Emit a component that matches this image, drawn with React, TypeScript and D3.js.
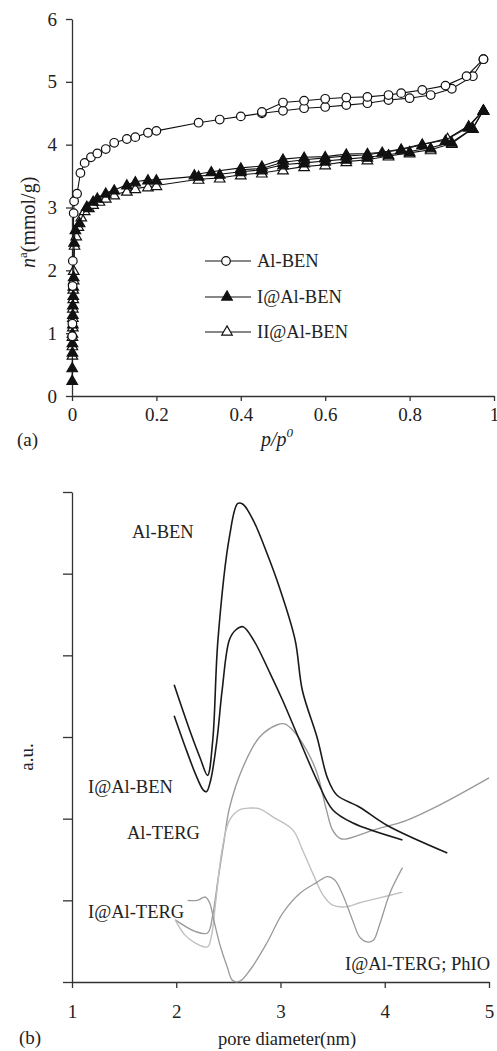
import * as d3 from "d3";
import { useEffect, useRef } from "react";

// (a) isotherms: [p/p0, n (mmol/g)]
const alBenAds = [
  [0.0005, 0.95], [0.001, 1.15], [0.0015, 1.75], [0.002, 2.15], [0.004, 2.91], [0.005, 3.1],
  [0.012, 3.22], [0.02, 3.55], [0.03, 3.71], [0.045, 3.8], [0.06, 3.86], [0.08, 3.93],
  [0.1, 4.03], [0.13, 4.09], [0.15, 4.12], [0.18, 4.19], [0.2, 4.22], [0.3, 4.35],
  [0.35, 4.4], [0.4, 4.45], [0.45, 4.5], [0.5, 4.54], [0.55, 4.58], [0.6, 4.6],
  [0.65, 4.63], [0.7, 4.66], [0.75, 4.71], [0.8, 4.74], [0.85, 4.79], [0.9, 4.89],
  [0.95, 5.09], [0.975, 5.36]
];
const alBenDes = [
  [0.975, 5.36], [0.935, 5.09], [0.885, 4.94], [0.83, 4.87], [0.78, 4.82], [0.75, 4.79],
  [0.7, 4.76], [0.65, 4.75], [0.6, 4.73], [0.55, 4.7], [0.5, 4.67], [0.45, 4.52]
];
const iAlBenAds = [
  [0.0005, 0.25], [0.0005, 0.45], [0.001, 0.7], [0.001, 0.85], [0.001, 1.0], [0.002, 1.15],
  [0.002, 1.3], [0.002, 1.45], [0.003, 1.6], [0.003, 1.75], [0.004, 1.9], [0.005, 2.45],
  [0.008, 2.65], [0.018, 2.76], [0.035, 3.02], [0.05, 3.1], [0.06, 3.15], [0.08, 3.23],
  [0.1, 3.28], [0.13, 3.36], [0.15, 3.41], [0.18, 3.44], [0.2, 3.44], [0.3, 3.5],
  [0.35, 3.53], [0.4, 3.57], [0.45, 3.6], [0.5, 3.68], [0.55, 3.71], [0.6, 3.74],
  [0.65, 3.77], [0.7, 3.8], [0.75, 3.84], [0.8, 3.89], [0.85, 3.95], [0.9, 4.04],
  [0.95, 4.26], [0.975, 4.55]
];
const iAlBenDes = [
  [0.975, 4.55], [0.94, 4.28], [0.885, 4.07], [0.83, 4.01], [0.78, 3.93], [0.735, 3.88],
  [0.7, 3.86], [0.65, 3.85], [0.6, 3.81], [0.55, 3.8], [0.5, 3.77], [0.45, 3.66],
  [0.4, 3.63], [0.33, 3.57], [0.29, 3.52]
];
const iiAlBenAds = [
  [0.001, 0.65], [0.001, 0.8], [0.001, 0.95], [0.002, 1.1], [0.002, 1.25], [0.002, 1.4],
  [0.003, 1.55], [0.003, 1.7], [0.004, 1.85], [0.004, 2.0], [0.006, 2.4], [0.01, 2.55],
  [0.015, 2.7], [0.022, 2.85], [0.03, 2.95], [0.04, 3.0], [0.05, 3.05], [0.065, 3.1],
  [0.08, 3.15], [0.1, 3.2], [0.13, 3.26], [0.15, 3.3], [0.18, 3.33], [0.2, 3.35],
  [0.3, 3.45], [0.35, 3.47], [0.4, 3.52], [0.45, 3.55], [0.5, 3.6], [0.55, 3.65],
  [0.6, 3.68], [0.65, 3.73], [0.7, 3.76], [0.75, 3.82], [0.8, 3.87], [0.85, 3.92],
  [0.9, 4.02], [0.95, 4.26], [0.975, 4.55]
];
const iiAlBenDes = [
  [0.975, 4.55], [0.94, 4.3], [0.89, 4.1], [0.83, 4.0], [0.78, 3.92], [0.7, 3.84],
  [0.65, 3.82], [0.6, 3.79], [0.55, 3.76], [0.5, 3.72], [0.45, 3.62], [0.4, 3.6]
];
const isoTicksX = [0, 0.2, 0.4, 0.6, 0.8, 1];
const isoTicksY = [0, 1, 2, 3, 4, 5, 6];

// (b) pore size distributions: [pore diameter (nm), a.u.]
const psdAlBen = [
  [1.98, 3.64], [2.13, 3.08], [2.23, 2.74], [2.3, 2.53], [2.35, 2.96], [2.4, 4.19],
  [2.51, 5.45], [2.59, 5.86], [2.64, 5.85], [2.74, 5.65], [2.87, 5.25], [2.99, 4.83],
  [3.14, 4.19], [3.21, 3.57], [3.35, 3.0], [3.45, 2.5], [3.54, 2.29], [3.76, 2.14],
  [4.02, 1.92], [4.6, 1.58]
];
const psdIAlBen = [
  [1.98, 3.26], [2.08, 2.9], [2.19, 2.53], [2.26, 2.35], [2.29, 2.33], [2.33, 2.47],
  [2.39, 2.96], [2.44, 3.57], [2.51, 4.19], [2.57, 4.31], [2.64, 4.35], [2.74, 4.19],
  [2.9, 3.78], [3.02, 3.45], [3.17, 3.0], [3.35, 2.47], [3.5, 2.11], [3.69, 1.95],
  [4.17, 1.74]
];
const psdAlTerg = [
  [1.99, 0.76], [2.18, 0.62], [2.3, 0.6], [2.35, 0.82], [2.4, 1.25], [2.46, 1.74],
  [2.51, 2.13], [2.64, 2.63], [2.8, 3.0], [2.97, 3.15], [3.04, 3.16], [3.12, 3.08],
  [3.25, 2.84], [3.35, 2.56], [3.44, 2.11], [3.5, 1.86], [3.57, 1.76], [3.62, 1.75],
  [3.89, 1.86], [4.21, 1.98], [4.53, 2.17], [5.0, 2.5]
];
const psdIAlTerg = [
  [1.99, 0.76], [2.08, 0.58], [2.18, 0.48], [2.3, 0.43], [2.34, 0.58], [2.38, 1.0],
  [2.44, 1.62], [2.51, 1.98], [2.61, 2.11], [2.71, 2.13], [2.8, 2.12], [2.93, 2.02],
  [3.12, 1.86], [3.21, 1.62], [3.31, 1.33], [3.41, 1.06], [3.5, 0.94], [3.62, 0.92],
  [3.76, 0.97], [3.95, 1.03], [4.17, 1.1]
];
const psdIAlTergPhio = [
  [2.11, 1.0], [2.2, 1.0], [2.28, 1.04], [2.32, 0.97], [2.36, 0.76], [2.42, 0.45],
  [2.49, 0.18], [2.54, 0.02], [2.61, 0.01], [2.71, 0.15], [2.87, 0.48], [3.02, 0.84],
  [3.19, 1.09], [3.35, 1.22], [3.45, 1.29], [3.52, 1.25], [3.6, 1.06], [3.69, 0.76],
  [3.76, 0.55], [3.83, 0.49], [3.89, 0.51], [3.95, 0.7], [4.05, 1.09], [4.17, 1.4]
];
const psdTicksX = [1, 2, 3, 4, 5];
const psdTicksY = [0, 1, 2, 3, 4, 5, 6];

const width = 497;
const height = 1051;
const font = "'Liberation Serif', 'Times New Roman', serif";

const isoX = d3.scaleLinear().domain([0, 1]).range([72, 494]);
const isoY = d3.scaleLinear().domain([0, 6]).range([396, 19]);
const psdX = d3.scaleLinear().domain([1, 5]).range([72, 489]);
const psdY = d3.scaleLinear().domain([0, 6]).range([982, 492]);

const App = () => {
  const ref = useRef(null);

  useEffect(() => {
    const svg = d3.select(ref.current);
    svg.selectAll("*").remove();

    const styleAxis = (g, size) => {
      g.select(".domain").attr("stroke", "#333").attr("stroke-width", 1.3);
      g.selectAll(".tick line").attr("stroke", "#333").attr("stroke-width", 1.3);
      g.selectAll("text").style("font-family", font).style("font-size", `${size}px`).attr("fill", "#222");
    };

    // ---- panel (a) ----
    svg.append("g")
      .attr("transform", "translate(0,396)")
      .call(d3.axisBottom(isoX).tickValues(isoTicksX).tickFormat(d3.format("")).tickSize(5).tickPadding(7).tickSizeOuter(0))
      .call(g => styleAxis(g, 19));
    svg.append("g")
      .attr("transform", "translate(72,0)")
      .call(d3.axisLeft(isoY).tickValues(isoTicksY).tickFormat(d3.format("d")).tickSize(6).tickPadding(9).tickSizeOuter(0))
      .call(g => styleAxis(g, 19));

    const isoLine = d3.line().x(d => isoX(d[0])).y(d => isoY(d[1]));
    const tri = d3.symbol(d3.symbolTriangle, 48);

    const drawSeries = (pts, kind) => {
      svg.append("path")
        .attr("d", isoLine(pts))
        .attr("fill", "none")
        .attr("stroke", "#111")
        .attr("stroke-width", 1.1);
      pts.forEach(d => {
        if (kind === "circle") {
          svg.append("circle")
            .attr("cx", isoX(d[0])).attr("cy", isoY(d[1])).attr("r", 4.3)
            .attr("fill", "#fff").attr("stroke", "#111").attr("stroke-width", 1.2);
        } else {
          svg.append("path")
            .attr("d", tri())
            .attr("transform", `translate(${isoX(d[0])},${isoY(d[1]) + 1})`)
            .attr("fill", kind === "filled" ? "#111" : "#fff")
            .attr("stroke", "#111").attr("stroke-width", 1.2);
        }
      });
    };

    drawSeries(iiAlBenAds, "open");
    drawSeries(iiAlBenDes, "open");
    drawSeries(iAlBenAds, "filled");
    drawSeries(iAlBenDes, "filled");
    drawSeries(alBenAds, "circle");
    drawSeries(alBenDes, "circle");

    // legend
    const legend = [
      { label: "Al-BEN", kind: "circle", y: 261 },
      { label: "I@Al-BEN", kind: "filled", y: 297 },
      { label: "II@Al-BEN", kind: "open", y: 332 }
    ];
    legend.forEach(l => {
      svg.append("line").attr("x1", 205).attr("x2", 251).attr("y1", l.y).attr("y2", l.y)
        .attr("stroke", "#111").attr("stroke-width", 1.1);
      if (l.kind === "circle") {
        svg.append("circle").attr("cx", 226).attr("cy", l.y).attr("r", 4.3)
          .attr("fill", "#fff").attr("stroke", "#111").attr("stroke-width", 1.2);
      } else {
        svg.append("path").attr("d", tri()).attr("transform", `translate(227,${l.y})`)
          .attr("fill", l.kind === "filled" ? "#111" : "#fff").attr("stroke", "#111").attr("stroke-width", 1.2);
      }
      svg.append("text").attr("x", 257).attr("y", l.y + 6)
        .style("font-family", font).style("font-size", "18.5px").attr("fill", "#222").text(l.label);
    });

    // ---- panel (b) ----
    svg.append("g")
      .attr("transform", "translate(0,982)")
      .call(d3.axisBottom(psdX).tickValues(psdTicksX).tickFormat(d3.format("d")).tickSize(6).tickPadding(17).tickSizeOuter(0))
      .call(g => styleAxis(g, 19));
    svg.append("g")
      .attr("transform", "translate(72,0)")
      .call(d3.axisLeft(psdY).tickValues(psdTicksY).tickFormat(() => "").tickSize(9).tickSizeOuter(0))
      .call(g => styleAxis(g, 19));

    const psdLine = d3.line().x(d => psdX(d[0])).y(d => psdY(d[1])).curve(d3.curveCatmullRom);
    const curves = [
      { pts: psdAlTerg, color: "#9a9a9a", w: 1.4 },
      { pts: psdIAlTerg, color: "#c0c0c0", w: 1.4 },
      { pts: psdIAlTergPhio, color: "#9a9a9a", w: 1.3 },
      { pts: psdIAlBen, color: "#1a1a1a", w: 1.6 },
      { pts: psdAlBen, color: "#1a1a1a", w: 1.6 }
    ];
    curves.forEach(c => {
      svg.append("path").attr("d", psdLine(c.pts)).attr("fill", "none")
        .attr("stroke", c.color).attr("stroke-width", c.w).attr("stroke-linejoin", "round");
    });
  }, []);

  const txt = { fontFamily: font, fill: "#222" };

  return (
    <div style={{ position: "absolute", left: 0, top: 0 }}>
      <svg ref={ref} width={width} height={height} style={{ display: "block" }} />
      <svg width={width} height={height} style={{ position: "absolute", left: 0, top: 0 }}>
        {/* panel (a) texts */}
        <text x={35} y={268} transform="rotate(-90 35 268)" style={{ ...txt, fontSize: "20px" }}>
          <tspan fontStyle="italic">n</tspan>
          <tspan fontSize="13px" dy={-8}>a</tspan>
          <tspan dy={8}>(mmol/g)</tspan>
        </text>
        <text x={17} y={446} style={{ ...txt, fontSize: "19px" }}>(a)</text>
        <text x={261} y={446} style={{ ...txt, fontSize: "20px", fontStyle: "italic" }}>
          p/p<tspan fontSize="13px" dy={-9}>0</tspan>
        </text>
        {/* panel (b) texts */}
        <text x={33} y={757} textAnchor="middle" transform="rotate(-90 33 757)" style={{ ...txt, fontSize: "19px" }}>a.u.</text>
        <text x={132} y={538} style={{ ...txt, fontSize: "18.5px" }}>Al-BEN</text>
        <text x={88} y={793} style={{ ...txt, fontSize: "18.5px" }}>I@Al-BEN</text>
        <text x={127} y={839} style={{ ...txt, fontSize: "18.5px" }}>Al-TERG</text>
        <text x={88} y={918} style={{ ...txt, fontSize: "18.5px" }}>I@Al-TERG</text>
        <text x={490} y={970} textAnchor="end" style={{ ...txt, fontSize: "18.5px" }}>I@Al-TERG; PhIO</text>
        <text x={19} y={1044} style={{ ...txt, fontSize: "19px" }}>(b)</text>
        <text x={287} y={1045} textAnchor="middle" style={{ ...txt, fontSize: "18.5px" }}>pore diameter(nm)</text>
      </svg>
    </div>
  );
};

export default App;
